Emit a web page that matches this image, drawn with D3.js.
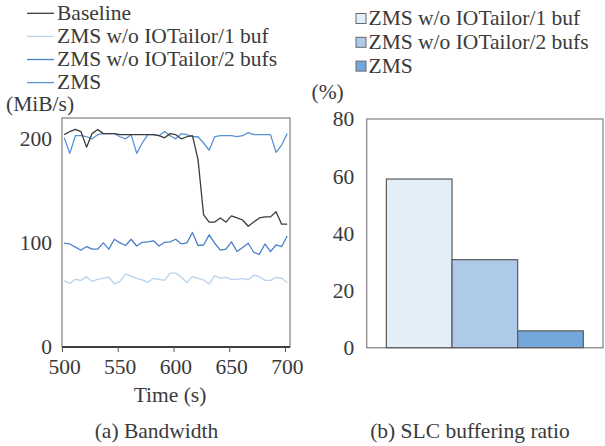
<!DOCTYPE html>
<html><head><meta charset="utf-8">
<script src="https://cdn.jsdelivr.net/npm/d3@7"></script>
<style>body{margin:0;background:#fff}svg{display:block}</style>
</head><body>
<svg id="c" width="605" height="446"></svg>
<script>
const times = d3.range(41).map(i => 502 + 5 * i);
const baseline = [204,207,209,207,192,205,209,205,205,205,204,204,204,204,204,204,204,203,201,205,204,200,202,203,180,127,120,120,124,120,126,124,122,116,120,124,125,125,130,118,118];
const buf1 = [63.5,61,65,64,67.6,63,65,66,67,60.5,63,70,68,66,64.4,62,66,65,64,71,71,67,62,67.6,66,64.4,60.5,68.6,66,67,65,65,66,64.4,69,67.6,64,64,67,66,62];
const buf2 = [99.7,99,96,93,96.5,94,94,100,94,103.5,100,97.5,103.5,97,100.6,101,102,97,100.6,101,103.5,99,100,110,97.5,98,107.7,99.7,93,94,101,91.7,95.5,99.7,91,89,99,91.7,98,96.5,106.7];
const zms = [201,186,203,203,202,200,204,205,205,205,202,200,204,186,196,204,204,203,207,203,200,205,204,202,202,196,189,202,203,203,203,202,203,206,204,204,204,204,187,194,205];
const lineNames = ["Baseline","ZMS w/o IOTailor/1 buf","ZMS w/o IOTailor/2 bufs","ZMS"];
const lineColors = ["#3c3c3c","#b9d3ee","#4a7fcb","#5a92d6"];
const xTicks = [500,550,600,650,700];
const yTicksL = [0,100,200];

const barNames = ["ZMS w/o IOTailor/1 buf","ZMS w/o IOTailor/2 bufs","ZMS"];
const barValues = [59,30.8,5.9];
const barColors = ["#e2eef8","#aecae8","#74a7db"];
const yTicksR = [0,20,40,60,80];

const FS = "21.5px";
const TC = "#3a3a3a";
const svg = d3.select("#c");
function st(sel){ return sel.style("font-family","Liberation Serif").style("font-size",FS).style("fill",TC); }
function label(g, x, y, s, anchor){
  return st(g.append("text").attr("x",x).attr("y",y).attr("text-anchor",anchor||"start").text(s));
}

// ---------- Left chart ----------
const x = d3.scaleLinear().domain([500,704.5]).range([62,290]);
const y = d3.scaleLinear().domain([0,220]).range([347,118]);
const gL = svg.append("g");
gL.append("rect").attr("x",62).attr("y",118).attr("width",228).attr("height",229)
  .attr("fill","none").attr("stroke","#8a8a8a").attr("stroke-width",1.3);
const series = [baseline,buf1,buf2,zms];
const line = d3.line().x((d,i)=>x(times[i])).y(d=>y(d));
[1,2,3,0].forEach(k=>{
  gL.append("path").datum(series[k]).attr("d",line).attr("fill","none")
    .attr("stroke",lineColors[k]).attr("stroke-width",1.3).attr("stroke-linejoin","round");
});
const xa = gL.append("g").attr("transform","translate(0,347)")
  .call(d3.axisBottom(x).tickValues(xTicks).tickSize(5).tickPadding(6.5).tickFormat(d3.format("d")));
xa.select(".domain").attr("stroke","#404040").attr("stroke-width",2.2).attr("d","M62,0H290");
xa.selectAll(".tick line").attr("stroke","#555");
st(xa.selectAll("text")).attr("dx",2);
const ya = gL.append("g").attr("transform","translate(62,0)")
  .call(d3.axisLeft(y).tickValues(yTicksL).tickSize(0).tickPadding(10));
ya.select(".domain").remove();
st(ya.selectAll("text"));
label(gL, 6, 111, "(MiB/s)");
label(gL, 170, 402, "Time (s)", "middle");
label(gL, 156.5, 438, "(a) Bandwidth", "middle");
lineNames.forEach((n,i)=>{
  const yy = 13.3 + i*23.1;
  gL.append("line").attr("x1",27).attr("x2",54).attr("y1",yy).attr("y2",yy)
    .attr("stroke",lineColors[i]).attr("stroke-width",1.3);
  label(gL, 57, yy+6.8, n);
});

// ---------- Right chart ----------
const xb = d3.scaleBand().domain(barNames).range([366.7,603]).paddingInner(0).paddingOuter(0.3);
const yb = d3.scaleLinear().domain([0,80]).range([347.7,119]);
const gR = svg.append("g");
gR.append("rect").attr("x",366.7).attr("y",119).attr("width",236.3).attr("height",228.7)
  .attr("fill","none").attr("stroke","#8a8a8a").attr("stroke-width",1.3);
gR.selectAll("rect.bar").data(barValues).join("rect").attr("class","bar")
  .attr("x",(d,i)=>xb(barNames[i])).attr("width",xb.bandwidth())
  .attr("y",d=>yb(d)).attr("height",d=>yb(0)-yb(d))
  .attr("fill",(d,i)=>barColors[i]).attr("stroke","#5a5a5a").attr("stroke-width",1.2);
const yra = gR.append("g").attr("transform","translate(366.7,0)")
  .call(d3.axisLeft(yb).tickValues(yTicksR).tickSize(0).tickPadding(12.5));
yra.select(".domain").remove();
st(yra.selectAll("text"));
label(gR, 311.5, 99, "(%)");
label(gR, 470, 438, "(b) SLC buffering ratio", "middle");
barNames.forEach((n,i)=>{
  const yy = 25 + i*23.8;
  gR.append("rect").attr("x",356).attr("y",yy-11.5).attr("width",10).attr("height",10)
    .attr("fill",barColors[i]).attr("stroke","#6a6a6a").attr("stroke-width",1);
  label(gR, 368.5, yy, n);
});
</script>
</body></html>
